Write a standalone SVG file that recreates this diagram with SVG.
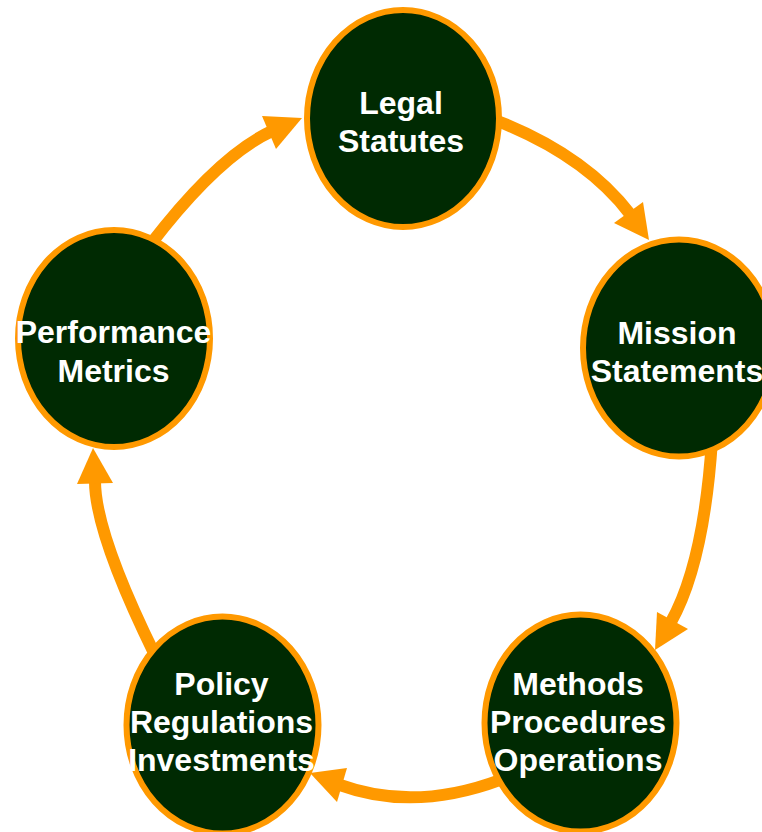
<svg xmlns="http://www.w3.org/2000/svg" width="762" height="832" viewBox="0 0 762 832">
<style>
.node{fill:#002a02;stroke:#ff9900;stroke-width:6}
.lbl{font-family:"Liberation Sans",Arial,sans-serif;font-weight:bold;font-size:32px;fill:#ffffff;text-anchor:middle}
.shaft{fill:none;stroke:#ff9900;stroke-width:12}
.head{fill:#ff9900}
</style>
<rect width="762" height="832" fill="#ffffff"/>
<g id="connectors">
<path class="shaft" d="M150,245 Q218,156 272,131"/>
<polygon class="head" points="302,118 262,116 276,149"/>
<path class="shaft" d="M495,120 Q585,155 630,214"/>
<polygon class="head" points="649,240 614,223 643,202"/>
<path class="shaft" d="M712,440 Q704,563 671,622"/>
<polygon class="head" points="655,650 657,612 688,629"/>
<path class="shaft" d="M500,780 Q414,812 340,785"/>
<polygon class="head" points="310,773 347,768 337,802"/>
<path class="shaft" d="M155,655 Q95,533 95,481"/>
<polygon class="head" points="93,448 77,484 113,483"/>
</g>
<g id="legal">
<ellipse class="node" cx="403" cy="118.5" rx="96" ry="108.5"/>
<text class="lbl" x="401" y="114">Legal</text>
<text class="lbl" x="401" y="152">Statutes</text>
</g>
<g id="mission">
<ellipse class="node" cx="679" cy="348" rx="96" ry="108.5"/>
<text class="lbl" x="677" y="344">Mission</text>
<text class="lbl" x="677" y="382">Statements</text>
</g>
<g id="methods">
<ellipse class="node" cx="580.5" cy="723" rx="96" ry="108.5"/>
<text class="lbl" x="578" y="695">Methods</text>
<text class="lbl" x="578" y="733">Procedures</text>
<text class="lbl" x="578" y="771">Operations</text>
</g>
<g id="policy">
<ellipse class="node" cx="222.5" cy="725" rx="96" ry="108.5"/>
<text class="lbl" x="221.5" y="695">Policy</text>
<text class="lbl" x="221.5" y="733">Regulations</text>
<text class="lbl" x="221.5" y="771">Investments</text>
</g>
<g id="performance">
<ellipse class="node" cx="114" cy="338.5" rx="96" ry="108.5"/>
<text class="lbl" x="113.5" y="343">Performance</text>
<text class="lbl" x="113.5" y="382">Metrics</text>
</g>
</svg>
